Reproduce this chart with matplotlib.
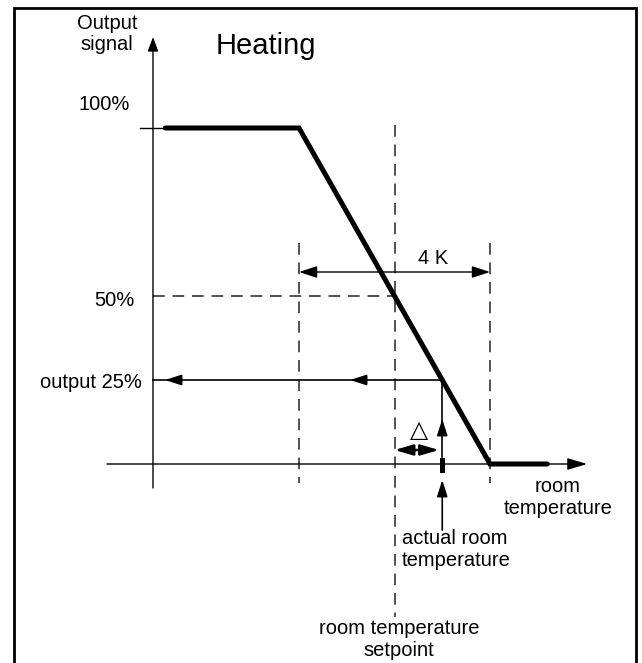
import matplotlib
matplotlib.use("Agg")
import matplotlib.pyplot as plt
from matplotlib.patches import Rectangle

plt.rcParams['font.family'] = ['Liberation Sans', 'DejaVu Sans']

# ---- data (x in K relative to setpoint, y in % output) ----
curve_x = [-4.8, -2.0, 2.0, 3.2]
curve_y = [100, 100, 0, 0]
band_edges = [-2.0, 2.0]        # 4 K proportional band
setpoint = 0.0
actual_temp = 1.0
actual_output = 25
half_level = 50
full_level = 100
y_tick_labels = ["100%", "50%", "output 25%"]
y_tick_values = [100, 50, 25]

# pixel mapping helpers (for layout only)
PX_K = 47.75
PX_PCT = 3.36
X0_PX = 394.5
Y0_PX = 464
W, H = 642, 663

fig = plt.figure(figsize=(W / 100, H / 100), dpi=100)
ax = fig.add_axes([0, 0, 1, 1])
ax.set_xlim((0 - X0_PX) / PX_K, (W - X0_PX) / PX_K)
ax.set_ylim((Y0_PX - H) / PX_PCT, Y0_PX / PX_PCT)
ax.axis('off')

def px2x(p):
    return (p - X0_PX) / PX_K

def px2y(p):
    return (Y0_PX - p) / PX_PCT

yaxis_x = px2x(153)

def arrow(tip, tail, hl, hw, lw=1.0, style='-|>'):
    ax.annotate('', xy=tip, xytext=tail,
                arrowprops=dict(arrowstyle=f'{style},head_length={hl},head_width={hw}',
                                lw=lw, color='black', shrinkA=0, shrinkB=0,
                                mutation_scale=10))

# border
fig.patches.append(Rectangle((14 / W, -0.01), (636 - 14) / W, 1 - 8 / H + 0.01,
                             transform=fig.transFigure, fill=False,
                             lw=2.0, edgecolor='black'))

dash = (0, (6.5, 4.3))
dcol = '#444444'
dlw = 1.3

# dashed verticals
for bx in band_edges:
    ax.plot([bx, bx], [px2y(243), px2y(483)], ls=dash, color=dcol, lw=dlw)
ax.plot([setpoint, setpoint], [px2y(125), px2y(617)], ls=dash, color=dcol, lw=dlw)
# 50% dashed
ax.plot([yaxis_x, setpoint], [half_level, half_level], ls=dash, color=dcol, lw=dlw)

# axes
arrow((yaxis_x, px2y(37)), (yaxis_x, px2y(488)), 0.86, 0.32, lw=1.0)
arrow((px2x(587), 0), (px2x(107), 0), 1.2, 0.36, lw=1.0)
# 100% tick
ax.plot([px2x(140), curve_x[0]], [full_level, full_level], color='black', lw=1.0)

# heating curve
ax.plot(curve_x, curve_y, color='black', lw=3.6, solid_capstyle='round',
        solid_joinstyle='miter', zorder=5)

# 4 K dimension
arrow((band_edges[1], px2y(272)), (band_edges[0], px2y(272)), 1.1, 0.36, lw=1.0,
      style='<|-|>')
ax.text((band_edges[0] + band_edges[1]) / 2 + 0.81, px2y(259), "4 K",
        ha='center', va='center', fontsize=14.5)

# output 25% arrow
ax.plot([actual_temp, yaxis_x], [actual_output, actual_output], color='black', lw=1.2)
arrow((px2x(165), actual_output), (px2x(180), actual_output), 1.0, 0.32, lw=1.2)
arrow((px2x(350), actual_output), (px2x(365), actual_output), 1.0, 0.32, lw=1.2)

# vertical from actual temp to curve
ax.plot([actual_temp, actual_temp], [actual_output, px2y(457)], color='black', lw=1.2)
arrow((actual_temp, px2y(419)), (actual_temp, px2y(435)), 1.0, 0.32, lw=1.2)

# actual temperature marker
ax.add_patch(Rectangle((actual_temp - 0.055, px2y(473)), 0.11, px2y(458) - px2y(473),
                       facecolor='black', edgecolor='none', zorder=6))
# arrow from below
arrow((actual_temp, px2y(480)), (actual_temp, px2y(530)), 1.0, 0.32, lw=1.2)

# delta arrow
arrow((px2x(439), px2y(450)), (setpoint, px2y(450)), 1.1, 0.32, lw=1.8, style='<|-|>')
ax.text(px2x(419), px2y(430), "\u25B3", ha='center', va='center', fontsize=17,
        family=['DejaVu Sans'])

# texts
ax.text(px2x(107), px2y(34), "Output\nsignal", ha='center', va='center', fontsize=14.5,
        linespacing=1.15)
ax.text(px2x(216), px2y(46), "Heating", ha='left', va='center', fontsize=21)
ax.text(px2x(130), px2y(105), y_tick_labels[0], ha='right', va='center', fontsize=14.5)
ax.text(px2x(135), px2y(300), y_tick_labels[1], ha='right', va='center', fontsize=14.5)
ax.text(px2x(142), px2y(383), y_tick_labels[2], ha='right', va='center', fontsize=14.5)
ax.text(px2x(558), px2y(498), "room\ntemperature", ha='center', va='center', fontsize=14.5)
ax.text(px2x(402), px2y(550), "actual room\ntemperature", ha='left', va='center', fontsize=14.5)
ax.text(px2x(399), px2y(639), "room temperature\nsetpoint", ha='center', va='center', fontsize=14.5)

fig.savefig("out.png", dpi=100)
